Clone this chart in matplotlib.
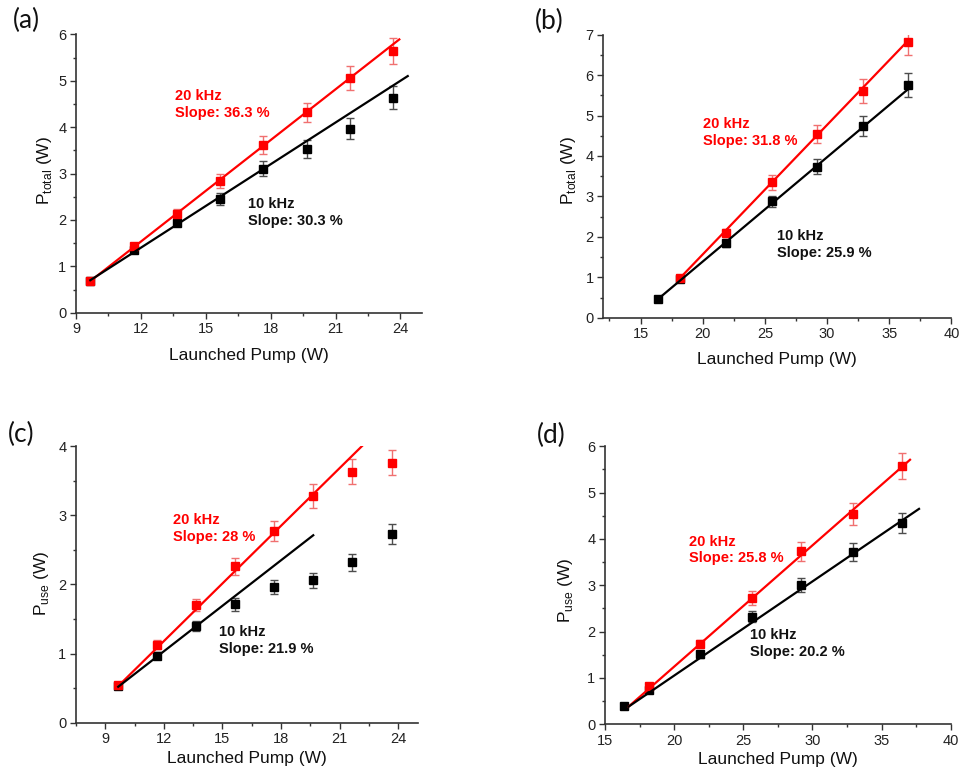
import matplotlib
matplotlib.use("Agg")
import matplotlib.pyplot as plt
from matplotlib.ticker import MultipleLocator

plt.rcParams["font.family"] = ["Liberation Sans", "DejaVu Sans"]

# launched pump (W)
pump_ac = [9.66, 11.66, 13.66, 15.66, 17.66, 19.66, 21.66, 23.66]
pump_bd_10 = [16.4, 18.2, 21.9, 25.6, 29.2, 32.9, 36.5]
pump_bd_20 = [18.2, 21.9, 25.6, 29.2, 32.9, 36.5]

# (a) P_total
a_p20 = [0.68, 1.44, 2.13, 2.84, 3.61, 4.32, 5.05, 5.63]
a_e20 = [0.03, 0.05, 0.10, 0.15, 0.19, 0.21, 0.26, 0.28]
a_p10 = [0.68, 1.36, 1.94, 2.46, 3.10, 3.53, 3.97, 4.63]
a_e10 = [0.03, 0.05, 0.08, 0.13, 0.16, 0.19, 0.22, 0.25]
a_fit20_x, a_fit20_y = [9.66, 23.95], [0.68, 5.89]
a_fit10_x, a_fit10_y = [9.66, 24.34], [0.70, 5.10]

# (b) P_total
b_p20 = [0.99, 2.09, 3.35, 4.54, 5.61, 6.82]
b_e20 = [0.05, 0.10, 0.18, 0.23, 0.29, 0.32]
b_p10 = [0.46, 0.97, 1.84, 2.88, 3.74, 4.74, 5.75]
b_e10 = [0.03, 0.05, 0.09, 0.14, 0.19, 0.24, 0.30]
b_fit20_x, b_fit20_y = [18.2, 36.6], [0.99, 6.88]
b_fit10_x, b_fit10_y = [16.4, 36.55], [0.46, 5.66]

# (c) P_use
c_p20 = [0.55, 1.13, 1.70, 2.26, 2.77, 3.28, 3.63, 3.76]
c_e20 = [0.03, 0.06, 0.09, 0.12, 0.14, 0.17, 0.18, 0.18]
c_p10 = [0.53, 0.97, 1.40, 1.71, 1.96, 2.06, 2.32, 2.73]
c_e10 = [0.03, 0.05, 0.07, 0.09, 0.10, 0.11, 0.12, 0.14]
c_fit20_x, c_fit20_y = [9.66, 22.33], [0.53, 4.05]
c_fit10_x, c_fit10_y = [9.66, 19.65], [0.52, 2.71]

# (d) P_use
d_p20 = [0.83, 1.74, 2.73, 3.73, 4.54, 5.58]
d_e20 = [0.04, 0.08, 0.15, 0.20, 0.23, 0.28]
d_p10 = [0.39, 0.75, 1.51, 2.32, 3.00, 3.72, 4.35]
d_e10 = [0.02, 0.04, 0.07, 0.12, 0.15, 0.19, 0.22]
d_fit20_x, d_fit20_y = [16.7, 37.06], [0.38, 5.71]
d_fit10_x, d_fit10_y = [16.7, 37.71], [0.38, 4.65]

slopes_20 = ["36.3", "31.8", "28", "25.8"]
slopes_10 = ["30.3", "25.9", "21.9", "20.2"]

RED = "#ff0000"


def draw_panel(ax, x10, y10, e10, x20, y20, e20, fit10, fit20):
    ax.errorbar(x10, y10, yerr=e10, fmt="s", color="black", ms=5.5,
                ecolor="#4d4d4d", elinewidth=1, capsize=3, capthick=1, zorder=2)
    ax.errorbar(x20, y20, yerr=e20, fmt="s", color=RED, ms=5.5,
                ecolor="#f07070", elinewidth=1, capsize=3, capthick=1, zorder=2)
    ax.plot(fit20[0], fit20[1], color=RED, lw=1.6, zorder=3)
    ax.plot(fit10[0], fit10[1], color="black", lw=1.6, zorder=3)

    for side in ["top", "right"]:
        ax.spines[side].set_visible(False)
    for side in ["left", "bottom"]:
        ax.spines[side].set_linewidth(1.2)
        ax.spines[side].set_color("#333333")
    ax.tick_params(which="major", direction="out", length=4.5, width=1,
                   color="#333333", labelsize=10.5, pad=2.5, labelcolor="#222222")
    ax.tick_params(which="minor", direction="out", length=2.5, width=1, color="#333333")


fig = plt.figure(figsize=(9.6, 7.71), dpi=100)

ax_a = fig.add_axes([0.0792, 0.5944, 0.3604, 0.3611])
ax_b = fig.add_axes([0.6284, 0.5879, 0.3626, 0.3671])
ax_c = fig.add_axes([0.0792, 0.0626, 0.3559, 0.3589])
ax_d = fig.add_axes([0.6302, 0.0606, 0.3601, 0.3605])

draw_panel(ax_a, pump_ac, a_p10, a_e10, pump_ac, a_p20, a_e20,
           (a_fit10_x, a_fit10_y), (a_fit20_x, a_fit20_y))
draw_panel(ax_b, pump_bd_10, b_p10, b_e10, pump_bd_20, b_p20, b_e20,
           (b_fit10_x, b_fit10_y), (b_fit20_x, b_fit20_y))
draw_panel(ax_c, pump_ac, c_p10, c_e10, pump_ac, c_p20, c_e20,
           (c_fit10_x, c_fit10_y), (c_fit20_x, c_fit20_y))
draw_panel(ax_d, pump_bd_10, d_p10, d_e10, pump_bd_20, d_p20, d_e20,
           (d_fit10_x, d_fit10_y), (d_fit20_x, d_fit20_y))

# axis ranges and ticks
ax_a.set_xlim(9, 25)
ax_a.set_ylim(0, 6)
ax_b.set_xlim(12, 40)
ax_b.set_ylim(0, 7)
ax_c.set_xlim(7.5, 25)
ax_c.set_ylim(0, 4)
ax_d.set_xlim(15, 40)
ax_d.set_ylim(0, 6)
for ax in [ax_a, ax_c]:
    ax.xaxis.set_major_locator(MultipleLocator(3))
    ax.xaxis.set_minor_locator(MultipleLocator(1.5))
for ax in [ax_b, ax_d]:
    ax.xaxis.set_major_locator(MultipleLocator(5))
    ax.xaxis.set_minor_locator(MultipleLocator(2.5))
for ax in [ax_a, ax_b, ax_c, ax_d]:
    ax.yaxis.set_major_locator(MultipleLocator(1))
    ax.yaxis.set_minor_locator(MultipleLocator(0.5))

# axis labels
label_pos = {
    ax_a: (-0.152, -0.090, 0.51, r"P$_\mathregular{total}$ (W)"),
    ax_b: (-0.146, -0.099, 0.52, r"P$_\mathregular{total}$ (W)"),
    ax_c: (-0.128, -0.102, 0.505, r"P$_\mathregular{use}$ (W)"),
    ax_d: (-0.125, -0.113, 0.483, r"P$_\mathregular{use}$ (W)"),
}
for ax, (xl_y, yl_x, yl_y, ylabel) in label_pos.items():
    ax.set_xlabel("Launched Pump (W)", fontsize=12.5, va="center", color="#111111")
    ax.xaxis.set_label_coords(0.5, xl_y)
    ax.set_ylabel(ylabel, fontsize=12.5, va="center", color="#111111")
    ax.yaxis.set_label_coords(yl_x, yl_y)

# slope annotations
notes = [
    (ax_a, (13.58, 4.48), (16.96, 2.16)),
    (ax_b, (20.04, 4.58), (25.96, 1.81)),
    (ax_c, (12.47, 2.81), (14.83, 1.19)),
    (ax_d, (21.10, 3.76), (25.48, 1.75)),
]
for i, (ax, pos20, pos10) in enumerate(notes):
    ax.text(pos20[0], pos20[1], f"20 kHz\nSlope: {slopes_20[i]} %", color=RED,
            fontsize=10.5, fontweight="bold", ha="left", va="center", linespacing=1.25)
    ax.text(pos10[0], pos10[1], f"10 kHz\nSlope: {slopes_10[i]} %", color="#111111",
            fontsize=10.5, fontweight="bold", ha="left", va="center", linespacing=1.25)

# panel letters
for letter, (px, py) in zip(["(a)", "(b)", "(c)", "(d)"],
                            [(26, 20), (549, 21), (21, 434), (551, 435)]):
    fig.text(px / 960, 1 - py / 771, letter, fontsize=19, family=["Lato", "DejaVu Sans"],
             ha="center", va="center", color="#111111")

fig.savefig("out.png", dpi=100)
